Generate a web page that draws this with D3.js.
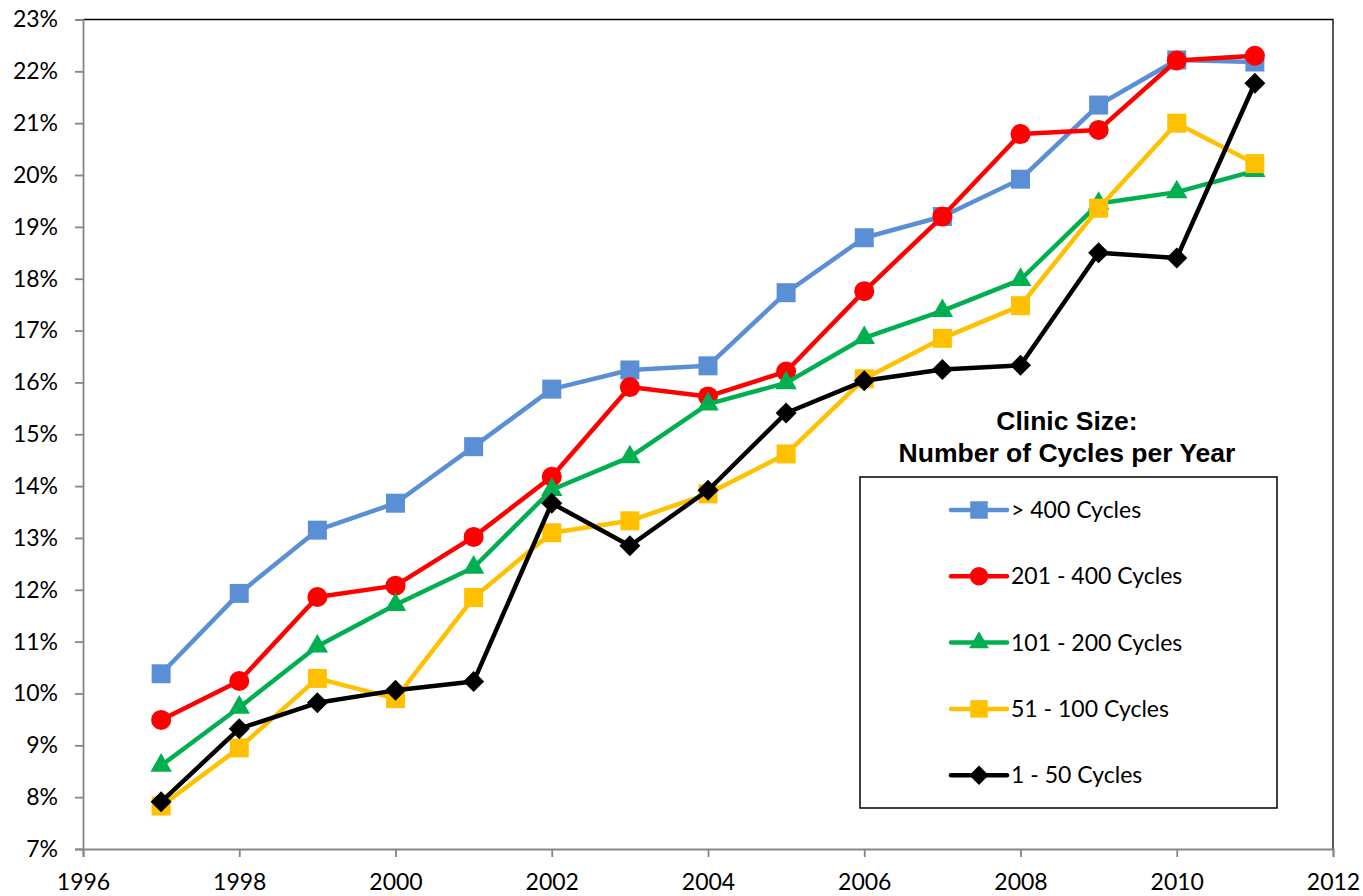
<!DOCTYPE html>
<html>
<head>
<meta charset="utf-8">
<script src="https://cdn.jsdelivr.net/npm/d3@7"></script>
<style>
  body { margin: 0; background: #fff; }
  .tick text { font-family: Lato, "Open Sans", sans-serif; font-size: 23px; fill: #000; }
</style>
</head>
<body>
<div id="chart"></div>
<script>
// chart data (percent of cycles)
const years = [1997, 1998, 1999, 2000, 2001, 2002, 2003, 2004, 2005, 2006, 2007, 2008, 2009, 2010, 2011];
const over400 = [10.38, 11.93, 13.15, 13.67, 14.76, 15.87, 16.24, 16.32, 17.73, 18.79, 19.20, 19.92, 21.35, 22.22, 22.18];
const c201to400 = [9.49, 10.24, 11.86, 12.08, 13.02, 14.18, 15.91, 15.73, 16.21, 17.76, 19.20, 20.79, 20.87, 22.21, 22.30];
const c101to200 = [8.61, 9.73, 10.91, 11.71, 12.43, 13.93, 14.56, 15.58, 15.99, 16.86, 17.38, 17.98, 19.45, 19.67, 20.08];
const c51to100 = [7.83, 8.95, 10.29, 9.90, 11.85, 13.10, 13.33, 13.85, 14.62, 16.07, 16.85, 17.48, 19.36, 21.00, 20.22];
const c1to50 = [7.91, 9.32, 9.82, 10.06, 10.23, 13.67, 12.85, 13.92, 15.41, 16.03, 16.25, 16.33, 18.50, 18.40, 21.77];

const seriesNames = ["> 400 Cycles", "201 - 400 Cycles", "101 - 200 Cycles", "51 - 100 Cycles", "1 - 50 Cycles"];
const xTicks = [1996, 1998, 2000, 2002, 2004, 2006, 2008, 2010, 2012];
const yTicks = [7, 8, 9, 10, 11, 12, 13, 14, 15, 16, 17, 18, 19, 20, 21, 22, 23];
const legendTitle = ["Clinic Size:", "Number of Cycles per Year"];

const W = 1363, H = 896;
const plot = {left: 83, right: 1333, top: 19.5, bottom: 849};

const svg = d3.select("#chart")
  .append("svg")
    .attr("width", W)
    .attr("height", H);

const x = d3.scaleLinear().domain([1996, 2012]).range([plot.left, plot.right]);
const y = d3.scaleLinear().domain([7, 23]).range([plot.bottom, plot.top]);

// plot area border (top + right)
svg.append("path")
  .attr("d", `M${plot.left},${plot.top}H${plot.right}V${plot.bottom}`)
  .attr("fill", "none")
  .attr("stroke", "#000")
  .attr("stroke-width", 1.3);

// axes
const xAxis = svg.append("g")
  .attr("transform", `translate(0,${plot.bottom})`)
  .call(d3.axisBottom(x).tickValues(xTicks).tickFormat(d3.format("d")).tickSizeOuter(0).tickSize(8).tickPadding(17));
const yAxis = svg.append("g")
  .attr("transform", `translate(${plot.left},0)`)
  .call(d3.axisLeft(y).tickValues(yTicks).tickFormat(d => d + "%").tickSizeOuter(0).tickSize(8).tickPadding(17));
[xAxis, yAxis].forEach(a => {
  a.selectAll(".domain, .tick line").attr("stroke", "#868686").attr("stroke-width", 1.8);
});

// series definitions
const diamond = {
  draw(ctx, size) {
    const r = Math.sqrt(size / 2);
    ctx.moveTo(0, -r); ctx.lineTo(r, 0); ctx.lineTo(0, r); ctx.lineTo(-r, 0); ctx.closePath();
  }
};
const series = [
  {name: seriesNames[0], values: over400, color: "#5A8FD6", symbol: d3.symbolSquare, size: 19 * 19},
  {name: seriesNames[1], values: c201to400, color: "#FF0000", symbol: d3.symbolCircle, size: Math.PI * 10 * 10},
  {name: seriesNames[2], values: c101to200, color: "#00B050", symbol: d3.symbolTriangle, size: 200},
  {name: seriesNames[3], values: c51to100, color: "#FFC000", symbol: d3.symbolSquare, size: 19 * 19},
  {name: seriesNames[4], values: c1to50, color: "#000000", symbol: diamond, size: 2 * 10.5 * 10.5}
];

const line = d3.line()
  .x((d, i) => x(years[i]))
  .y(d => y(d));

series.forEach(s => {
  const g = svg.append("g");
  g.append("path")
    .attr("d", line(s.values))
    .attr("fill", "none")
    .attr("stroke", s.color)
    .attr("stroke-width", 4.5)
    .attr("stroke-linejoin", "round");
  g.selectAll("path.mark")
    .data(s.values)
    .enter()
    .append("path")
      .attr("class", "mark")
      .attr("transform", (d, i) => `translate(${x(years[i])},${y(d)})`)
      .attr("d", d3.symbol().type(s.symbol).size(s.size))
      .attr("fill", s.color);
});

// legend title
const legendCx = 1067;
svg.selectAll("text.ltitle")
  .data(legendTitle)
  .enter()
  .append("text")
    .attr("class", "ltitle")
    .attr("x", legendCx)
    .attr("y", (d, i) => 430 + i * 32)
    .attr("text-anchor", "middle")
    .style("font-family", "'Liberation Sans', Arial, sans-serif")
    .style("font-weight", "bold")
    .style("font-size", "26.5px")
    .text(d => d);

// legend box
svg.append("rect")
  .attr("x", 860)
  .attr("y", 477)
  .attr("width", 417)
  .attr("height", 331)
  .attr("fill", "#fff")
  .attr("stroke", "#000")
  .attr("stroke-width", 1.5);

const legend = svg.selectAll("g.legend")
  .data(series)
  .enter()
  .append("g")
    .attr("class", "legend")
    .attr("transform", (d, i) => `translate(979,${510 + i * 66.3})`);
legend.append("line")
  .attr("x1", -28).attr("x2", 28)
  .attr("stroke", d => d.color)
  .attr("stroke-width", 4.5)
  .attr("stroke-linecap", "round");
legend.append("path")
  .attr("d", d => d3.symbol().type(d.symbol).size(d.size * 0.85)())
  .attr("fill", d => d.color);
legend.append("text")
  .attr("x", 32)
  .attr("dy", "0.35em")
  .style("font-family", "Lato, 'Open Sans', sans-serif")
  .style("font-size", "23px")
  .text(d => d.name);
</script>
</body>
</html>
